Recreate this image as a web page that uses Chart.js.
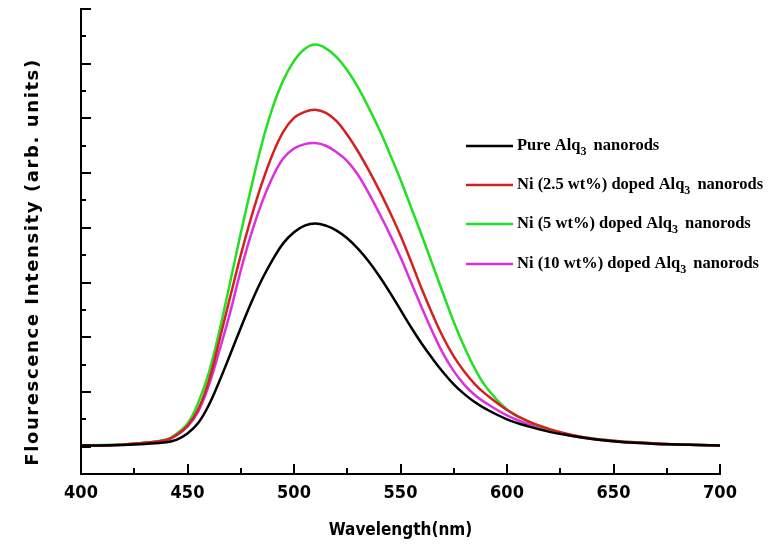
<!DOCTYPE html>
<html>
<head>
<meta charset="utf-8">
<script src="https://cdn.jsdelivr.net/npm/chart.js@4.4.0/dist/chart.umd.min.js"></script>
<style>
  body { margin: 0; background: #fff; }
  #wrap { width: 772px; height: 546px; }
</style>
</head>
<body>
<div id="wrap"><canvas id="myChart" width="772" height="546"></canvas></div>
<script>
// wavelengths (nm) and intensities (arb. units)
const wavelengths = [400, 410, 420, 430, 440, 445, 450, 455, 460, 465, 470, 475, 480, 485, 490, 495, 500, 505, 510, 515, 520, 525, 530, 535, 540, 545, 550, 555, 560, 565, 570, 575, 580, 585, 590, 600, 610, 620, 630, 640, 650, 660, 670, 680, 690, 700];

const pureAlq3 = [0.02, 0.02, 0.03, 0.05, 0.08, 0.13, 0.24, 0.43, 0.76, 1.20, 1.68, 2.17, 2.64, 3.06, 3.42, 3.72, 3.92, 4.04, 4.08, 4.04, 3.95, 3.81, 3.62, 3.39, 3.12, 2.82, 2.50, 2.18, 1.88, 1.61, 1.36, 1.14, 0.96, 0.81, 0.69, 0.50, 0.37, 0.27, 0.20, 0.14, 0.10, 0.07, 0.05, 0.04, 0.03, 0.02];
const ni25 = [0.02, 0.02, 0.04, 0.07, 0.12, 0.22, 0.38, 0.68, 1.20, 1.95, 2.73, 3.50, 4.20, 4.82, 5.35, 5.76, 6.01, 6.12, 6.16, 6.10, 5.95, 5.70, 5.40, 5.06, 4.69, 4.29, 3.86, 3.38, 2.88, 2.42, 2.00, 1.65, 1.37, 1.14, 0.96, 0.67, 0.46, 0.32, 0.22, 0.15, 0.11, 0.08, 0.06, 0.04, 0.03, 0.02];
const ni5 = [0.02, 0.03, 0.04, 0.07, 0.13, 0.24, 0.42, 0.80, 1.35, 2.12, 3.00, 3.90, 4.75, 5.55, 6.20, 6.70, 7.05, 7.27, 7.35, 7.28, 7.12, 6.88, 6.57, 6.20, 5.80, 5.35, 4.88, 4.37, 3.86, 3.33, 2.80, 2.28, 1.82, 1.42, 1.10, 0.68, 0.46, 0.31, 0.21, 0.15, 0.11, 0.08, 0.06, 0.04, 0.03, 0.02];
const ni10 = [0.02, 0.02, 0.04, 0.07, 0.12, 0.21, 0.37, 0.64, 1.12, 1.76, 2.45, 3.22, 3.90, 4.47, 4.93, 5.27, 5.45, 5.53, 5.55, 5.50, 5.38, 5.22, 4.97, 4.64, 4.27, 3.88, 3.46, 3.00, 2.54, 2.10, 1.70, 1.38, 1.13, 0.94, 0.80, 0.57, 0.41, 0.29, 0.20, 0.14, 0.10, 0.07, 0.05, 0.04, 0.03, 0.02];

const seriesNames = ['Pure Alq3 nanorods', 'Ni (2.5 wt%) doped Alq3 nanorods', 'Ni (5 wt%) doped Alq3 nanorods', 'Ni (10 wt%) doped Alq3 nanorods'];
const seriesColors = ['#000000', '#d42020', '#22e022', '#dd30dd'];
const seriesValues = [pureAlq3, ni25, ni5, ni10];

const xTickValues = [400, 425, 450, 475, 500, 525, 550, 575, 600, 625, 650, 675, 700];
const yTickValues = [0, 0.5, 1, 1.5, 2, 2.5, 3, 3.5, 4, 4.5, 5, 5.5, 6, 6.5, 7, 7.5, 8];

// inward ticks on the two axes + the rotated y title
const innerTicks = {
  id: 'innerTicks',
  afterDraw(chart) {
    const c = chart.ctx;
    const x = chart.scales.x, y = chart.scales.y;
    const area = chart.chartArea;
    c.save();
    c.strokeStyle = '#000';
    c.lineWidth = 2;
    xTickValues.forEach(v => {
      const px = Math.round(x.getPixelForValue(v));
      const len = (v % 50 === 0) ? 10 : 6;
      c.beginPath();
      c.moveTo(px, area.bottom);
      c.lineTo(px, area.bottom - len);
      c.stroke();
    });
    yTickValues.forEach(v => {
      const py = Math.round(y.getPixelForValue(v));
      const len = (v % 1 === 0) ? 10 : 5;
      c.beginPath();
      c.moveTo(area.left, py);
      c.lineTo(area.left + len, py);
      c.stroke();
    });
    // y title
    c.translate(33, 262);
    c.rotate(-Math.PI / 2);
    c.fillStyle = '#000';
    c.font = 'bold 18px "DejaVu Sans"';
    c.letterSpacing = '1.6px';
    c.textAlign = 'center';
    c.textBaseline = 'middle';
    c.fillText('Flourescence Intensity (arb. units)', 0, 0);
    c.restore();
  }
};

// legend drawn inside the plot, with subscript 3 in Alq3
const insideLegend = {
  id: 'insideLegend',
  afterDraw(chart) {
    const c = chart.ctx;
    const rows = [146, 185, 224, 264];
    c.save();
    chart.data.datasets.forEach((ds, i) => {
      const yy = rows[i];
      c.strokeStyle = ds.borderColor;
      c.lineWidth = 2.5;
      c.beginPath();
      c.moveTo(466, yy);
      c.lineTo(513, yy);
      c.stroke();
      const parts = ds.label.split('Alq3');
      c.fillStyle = '#000';
      c.textBaseline = 'middle';
      c.font = 'bold 16.5px "Liberation Serif"';
      let xx = 517;
      c.fillText(parts[0] + 'Alq', xx, yy);
      xx += c.measureText(parts[0] + 'Alq').width;
      c.font = 'bold 12px "Liberation Serif"';
      c.fillText('3', xx, yy + 6);
      xx += c.measureText('3').width;
      c.font = 'bold 16.5px "Liberation Serif"';
      c.fillText(parts[1], xx + 3, yy);
    });
    c.restore();
  }
};

const ctx = document.getElementById('myChart');
const myChart = new Chart(ctx, {
  type: 'line',
  data: {
    datasets: seriesValues.map((vals, i) => ({
      label: seriesNames[i],
      data: wavelengths.map((w, j) => ({ x: w, y: vals[j] })),
      borderColor: seriesColors[i],
      backgroundColor: seriesColors[i],
      borderWidth: 2.5,
      pointRadius: 0,
      fill: false,
      tension: 0.4
    }))
  },
  options: {
    responsive: false,
    animation: false,
    layout: { padding: { left: 81, right: 52, top: 9, bottom: 0 } },
    plugins: {
      legend: { display: false },
      tooltip: { enabled: false }
    },
    scales: {
      x: {
        type: 'linear',
        min: 400,
        max: 700,
        grid: { display: false, drawTicks: false },
        border: { display: true, color: '#000', width: 2 },
        ticks: {
          stepSize: 50,
          padding: 9,
          color: '#000',
          font: { family: '"DejaVu Sans Condensed", "DejaVu Sans"', size: 18, weight: 'bold' }
        },
        title: {
          display: true,
          text: 'Wavelength(nm)',
          color: '#000',
          padding: { top: 7, bottom: 5 },
          font: { family: '"DejaVu Sans Condensed", "DejaVu Sans"', size: 17, weight: 'bold' }
        }
      },
      y: {
        min: -0.5,
        max: 8,
        grid: { display: false, drawTicks: false },
        border: { display: true, color: '#000', width: 2 },
        ticks: { display: false, stepSize: 0.5 }
      }
    }
  },
  plugins: [innerTicks, insideLegend]
});
</script>
</body>
</html>
